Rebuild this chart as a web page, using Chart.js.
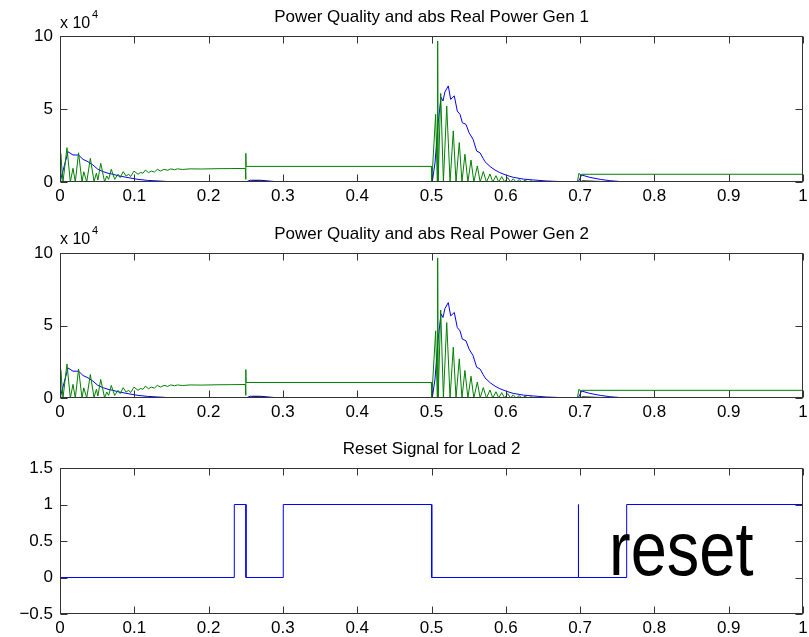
<!DOCTYPE html>
<html>
<head>
<meta charset="utf-8">
<script src="https://cdn.jsdelivr.net/npm/chart.js@4"></script>
<style>
  html, body { margin: 0; padding: 0; background: #fff; }
  #wrap { position: relative; width: 809px; height: 637px; overflow: hidden; }
  canvas { position: absolute; left: 0; }
</style>
</head>
<body>
<div id="wrap">
  <canvas id="gen1" width="809" height="210" style="top:0px"></canvas>
  <canvas id="gen2" width="809" height="210" style="top:215px"></canvas>
  <canvas id="reset" width="809" height="212" style="top:425px"></canvas>
</div>
<script>
// values, power in units of 1e4 (axis shows "x 10^4")
const timeTicks = [0, 0.1, 0.2, 0.3, 0.4, 0.5, 0.6, 0.7, 0.8, 0.9, 1];
const powerTicks = [0, 5, 10];
const resetTicks = [-0.5, 0, 0.5, 1, 1.5];

// [time, value]
const gen1Blue = [
  [0, 0], [0.0108, 2.07], [0.0175, 1.85], [0.025, 1.85], [0.031, 1.55], [0.0377, 1.39],
  [0.0444, 1.16], [0.051, 0.87], [0.058, 0.71], [0.0646, 0.6], [0.0713, 0.53], [0.078, 0.43],
  [0.0915, 0.3], [0.105, 0.18], [0.118, 0.11], [0.132, 0.07], [0.145, 0.03], [0.165, 0.01],
  [0.25, 0], [0.256, 0.12], [0.269, 0.12], [0.296, 0], [0.501, 0], [0.5047, 1.3],
  [0.509, 4.06], [0.5128, 5.8], [0.5155, 5.55], [0.518, 6.16], [0.5226, 6.58], [0.5258, 5.66],
  [0.5307, 5.9], [0.5347, 4.86], [0.5384, 4.63], [0.5415, 4.06], [0.5464, 3.95], [0.5505, 3.38],
  [0.556, 2.92], [0.5608, 2.12], [0.5653, 2.0], [0.5697, 1.6], [0.572, 1.39], [0.579, 1.05],
  [0.5855, 0.82], [0.592, 0.64], [0.601, 0.46], [0.61, 0.32], [0.6236, 0.2], [0.637, 0.14],
  [0.655, 0.07], [0.673, 0.03], [0.69, 0], [0.6975, 0], [0.702, 0.48], [0.713, 0.32],
  [0.727, 0.18], [0.74, 0.09], [0.754, 0.03], [0.77, 0], [1, 0]
];

const gen1Green = [
  [0, 0], [0.001, 1.95], [0.004, 0], [0.0094, 2.35], [0.0139, 0], [0.0175, 0.94], [0.0206, 0],
  [0.025, 2.0], [0.0296, 0], [0.032, 0.7], [0.036, 0], [0.0408, 1.62], [0.0458, 0.05],
  [0.049, 0.6], [0.051, 0.14], [0.0548, 1.28], [0.06, 0.02], [0.063, 0.41], [0.0655, 0.18],
  [0.069, 0.87], [0.0736, 0.18], [0.078, 0.53], [0.081, 0.3], [0.085, 0.71], [0.089, 0.41],
  [0.0925, 0.53], [0.095, 0.37], [0.0996, 0.75], [0.105, 0.53], [0.1086, 0.66], [0.1117, 0.6],
  [0.115, 0.82], [0.119, 0.64], [0.123, 0.75], [0.127, 0.68], [0.131, 0.87], [0.1355, 0.75],
  [0.14, 0.87], [0.145, 0.8], [0.149, 0.9], [0.154, 0.84], [0.158, 0.9], [0.165, 0.86],
  [0.175, 0.9], [0.19, 0.89], [0.21, 0.91], [0.23, 0.92], [0.2495, 0.93], [0.25, 0.18],
  [0.2502, 1.96], [0.2505, 1.07], [0.4998, 1.07], [0.5003, 0], [0.5056, 4.63], [0.5078, 0],
  [0.5083, 9.66], [0.509, 0], [0.5124, 6.07], [0.516, 0], [0.5205, 5.2], [0.525, 0],
  [0.5293, 3.5], [0.533, 0], [0.5374, 2.7], [0.541, 0], [0.545, 1.9], [0.549, 0],
  [0.5532, 1.5], [0.557, 0], [0.5617, 1.1], [0.5655, 0], [0.5697, 0.72], [0.574, 0],
  [0.5787, 0.55], [0.5825, 0], [0.5868, 0.43], [0.5905, 0], [0.5945, 0.37], [0.5985, 0],
  [0.6025, 0.3], [0.6065, 0], [0.61, 0.22], [0.614, 0], [0.618, 0.16], [0.622, 0],
  [0.626, 0.12], [0.63, 0], [0.634, 0.08], [0.638, 0], [0.642, 0.05], [0.646, 0],
  [0.65, 0.03], [0.654, 0], [0.6963, 0], [0.6985, 0.6], [0.7005, 0.48], [0.702, 0.53], [1, 0.53]
];

const gen1Black = [
  [0.25, 0], [0.262, 0.08], [0.285, 0.03], [0.3, 0], [0.3, null],
  [0.6, 0], [0.7, 0], [0.703, 0.08], [0.73, 0.03], [0.76, 0]
];

// the second generator trace looks the same as the first in the figure
const gen2Blue = gen1Blue;
const gen2Green = gen1Green;
const gen2Black = gen1Black;

const resetSignal = [
  [0, 1], [0, 0], [0.2346, 0], [0.2346, 1], [0.2503, 1], [0.2503, 0], [0.3005, 0], [0.3005, 1],
  [0.5003, 1], [0.5003, 0], [0.6976, 0], [0.6976, 1], [0.698, 0], [0.7627, 0], [0.7627, 1], [1, 1]
];

const FONT = '"Liberation Sans", Arial, Helvetica, sans-serif';
Chart.defaults.color = '#000';
Chart.defaults.font.family = FONT;
Chart.defaults.font.size = 17;

function series(pts, color, order) {
  return {
    data: pts.map(p => ({ x: p[0], y: p[1] })),
    borderColor: color,
    borderWidth: 1,
    pointRadius: 0,
    tension: 0,
    fill: false,
    order: order
  };
}

function fmt(v) {
  const s = String(Math.round(v * 10) / 10);
  return s.replace('-', '\u2212');
}

// box + inward ticks on all four sides, title, exponent label, extra text
function framePlugin(opts) {
  return {
    id: 'frame',
    afterDraw(chart) {
      const ctx = chart.ctx;
      const a = chart.chartArea;
      const L = Math.round(a.left) + 0.5, R = Math.round(a.right) - 0.5;
      const T = Math.round(a.top) + 0.5, B = Math.round(a.bottom) - 0.5;
      ctx.save();
      ctx.strokeStyle = '#333';
      ctx.lineWidth = 1;
      ctx.strokeRect(L, T, R - L, B - T);
      ctx.beginPath();
      chart.scales.x.ticks.forEach(t => {
        const px = Math.round(chart.scales.x.getPixelForValue(t.value)) + 0.5;
        ctx.moveTo(px, B); ctx.lineTo(px, B - 7);
        ctx.moveTo(px, T); ctx.lineTo(px, T + 7);
      });
      chart.scales.y.ticks.forEach(t => {
        const py = Math.round(chart.scales.y.getPixelForValue(t.value)) + 0.5;
        ctx.moveTo(L, py); ctx.lineTo(L + 7, py);
        ctx.moveTo(R, py); ctx.lineTo(R - 7, py);
      });
      ctx.stroke();

      ctx.fillStyle = '#000';
      ctx.textBaseline = 'alphabetic';
      ctx.textAlign = 'center';
      ctx.font = '17px ' + FONT;
      ctx.fillText(opts.title, (a.left + a.right) / 2, opts.titleY);
      if (opts.expY) {
        ctx.textAlign = 'left';
        ctx.font = '16px ' + FONT;
        ctx.fillText('x 10', a.left, opts.expY);
        ctx.font = '11px ' + FONT;
        ctx.fillText('4', a.left + 32, opts.expY - 10);
      }
      if (opts.note) {
        ctx.save();
        ctx.translate(opts.note.x, opts.note.y);
        ctx.scale(1, 1.18);
        ctx.textAlign = 'left';
        ctx.font = '65px ' + FONT;
        ctx.fillText(opts.note.text, 0, 0);
        ctx.restore();
      }
      ctx.restore();
    }
  };
}

function makeChart(id, datasets, yMin, yMax, yStep, padTop, axisH, frameOpts) {
  new Chart(document.getElementById(id), {
    type: 'line',
    data: { datasets: datasets },
    options: {
      responsive: false,
      animation: false,
      events: [],
      layout: { padding: { top: padTop, right: 6, left: 0, bottom: 0 } },
      plugins: { legend: { display: false }, tooltip: { enabled: false } },
      scales: {
        x: {
          type: 'linear', min: 0, max: 1,
          grid: { display: false, drawTicks: false },
          border: { display: false },
          ticks: { stepSize: 0.1, padding: 4, maxRotation: 0, autoSkip: false, callback: v => fmt(v) },
          afterFit: s => { s.height = axisH; s.paddingLeft = 0; s.paddingRight = 0; }
        },
        y: {
          min: yMin, max: yMax,
          grid: { display: false, drawTicks: false },
          border: { display: false },
          ticks: { stepSize: yStep, padding: 7, callback: v => fmt(v) },
          afterFit: s => { s.width = 60; s.paddingTop = 0; s.paddingBottom = 0; }
        }
      }
    },
    plugins: [framePlugin(frameOpts)]
  });
}

makeChart('gen1', [
  series(gen1Blue, '#0000ff', 3),
  series(gen1Green, '#008000', 2),
  series(gen1Black, '#000000', 1)
], powerTicks[0], powerTicks[powerTicks.length - 1], 5, 36, 28,
  { title: 'Power Quality and abs Real Power Gen 1', titleY: 22, expY: 28 });

makeChart('gen2', [
  series(gen2Blue, '#0000ff', 3),
  series(gen2Green, '#008000', 2),
  series(gen2Black, '#000000', 1)
], powerTicks[0], powerTicks[powerTicks.length - 1], 5, 38, 27,
  { title: 'Power Quality and abs Real Power Gen 2', titleY: 24, expY: 29 });

makeChart('reset', [
  series(resetSignal, '#0000ff', 1)
], resetTicks[0], resetTicks[resetTicks.length - 1], 0.5, 43, 23,
  { title: 'Reset Signal for Load 2', titleY: 29, note: { text: 'reset', x: 609, y: 150 } });
</script>
</body>
</html>
